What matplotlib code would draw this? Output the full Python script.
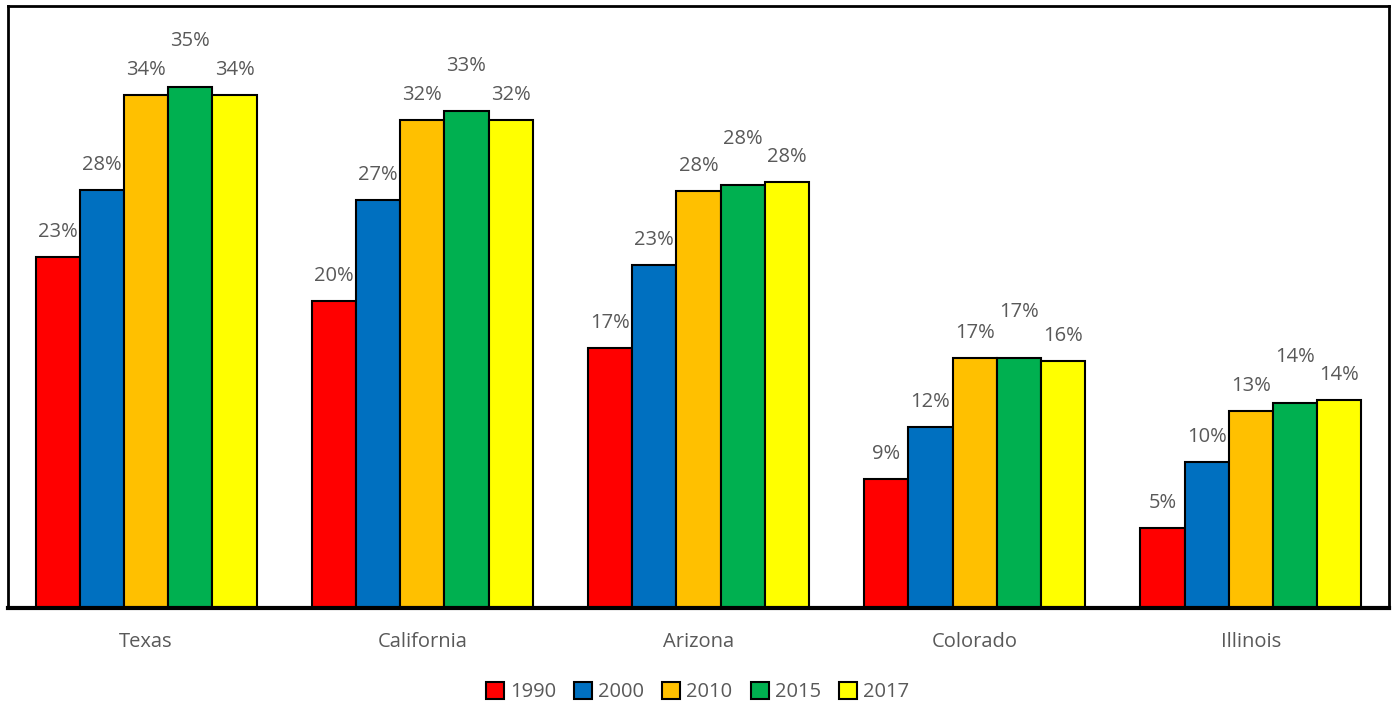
import matplotlib.pyplot as plt
import numpy as np

plt.rcParams['font.family'] = ['Open Sans', 'DejaVu Sans']

states = ["Texas", "California", "Arizona", "Colorado", "Illinois"]
years = ["1990", "2000", "2010", "2015", "2017"]
share_1990 = [23.3, 20.4, 17.3, 8.6, 5.3]
share_2000 = [27.8, 27.1, 22.8, 12.0, 9.7]
share_2010 = [34.1, 32.4, 27.7, 16.6, 13.1]
share_2015 = [34.6, 33.0, 28.1, 16.6, 13.6]
share_2017 = [34.1, 32.4, 28.3, 16.4, 13.8]
colors = ["#ff0000", "#0070c0", "#ffc000", "#00b050", "#ffff00"]

series = [share_1990, share_2000, share_2010, share_2015, share_2017]
# the 2015 labels sit higher so they don't collide with the neighbours
label_offsets = [18, 18, 18, 33, 18]

fig = plt.figure(figsize=(13.95, 7.04), dpi=100)
ax = fig.add_axes([8 / 1395, 1 - 608 / 704, 1381 / 1395, 602 / 704])

x = np.arange(len(states))
width = 0.16
text_color = "#595959"

for i, (vals, year) in enumerate(zip(series, years)):
    pos = x + (i - 2) * width
    bars = ax.bar(pos, vals, width, color=colors[i], edgecolor="black",
                  linewidth=1.5, label=year)
    for b, v in zip(bars, vals):
        ax.annotate("{:.0f}%".format(v), (b.get_x() + b.get_width() / 2, v),
                    xytext=(0, label_offsets[i]), textcoords="offset points",
                    ha="center", va="center", fontsize=14.5, color=text_color)

ax.set_xlim(-0.5, 4.5)
ax.set_ylim(0, 40)
ax.set_xticks(x)
ax.set_xticklabels(states, fontsize=14.5, color=text_color)
ax.tick_params(axis="x", length=0, pad=17)
ax.set_yticks([])
for side in ["left", "right", "top"]:
    ax.spines[side].set_linewidth(2)
ax.spines["bottom"].set_linewidth(3)

leg = fig.legend(loc="center", bbox_to_anchor=(0.5, 1 - 692 / 704), ncol=5,
                 frameon=False, fontsize=14.5, handlelength=0.9, handleheight=0.9,
                 handletextpad=0.3, columnspacing=0.9)
for t in leg.get_texts():
    t.set_color(text_color)

fig.savefig("out.png", dpi=100)
